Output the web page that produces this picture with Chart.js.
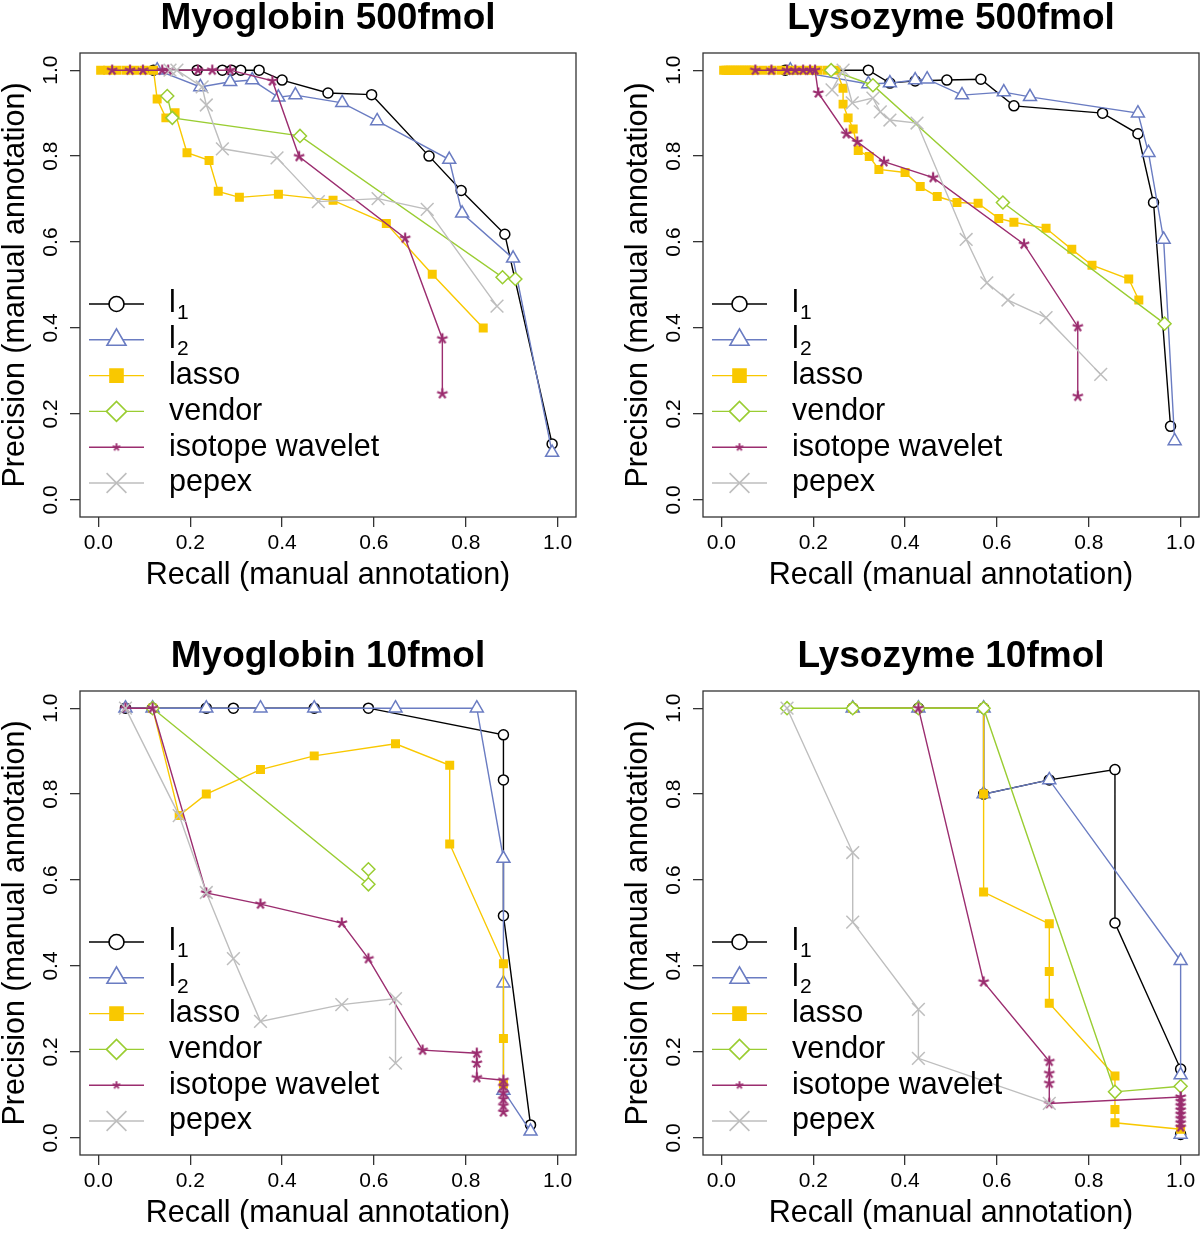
<!DOCTYPE html>
<html>
<head>
<meta charset="utf-8">
<script src="https://cdn.jsdelivr.net/npm/chart.js@4.4.0/dist/chart.umd.min.js"></script>
<style>
    body { margin: 0; background: #fff; width: 1200px; height: 1233px; position: relative; overflow: hidden; }
    canvas { position: absolute; }
</style>
</head>
<body>
<canvas id="panel0" width="577" height="595" style="left:0;top:0"></canvas>
<canvas id="panel1" width="577" height="595" style="left:623px;top:0"></canvas>
<canvas id="panel2" width="577" height="595" style="left:0;top:638px"></canvas>
<canvas id="panel3" width="577" height="595" style="left:623px;top:638px"></canvas>
<script>
const panelTitles = ["Myoglobin 500fmol", "Lysozyme 500fmol", "Myoglobin 10fmol", "Lysozyme 10fmol"];
const seriesNames = ["l1", "l2", "lasso", "vendor", "isotope wavelet", "pepex"];
const xTicks = [0, 0.2, 0.4, 0.6, 0.8, 1.0];
const yTicks = [0, 0.2, 0.4, 0.6, 0.8, 1.0];
const xTitle = "Recall (manual annotation)";
const yTitle = "Precision (manual annotation)";

// points are [recall, precision]
// Myoglobin 500fmol
const myo500L1 = [[0.12, 1], [0.215, 1], [0.27, 1], [0.29, 1], [0.31, 1], [0.35, 1], [0.40, 0.977], [0.50, 0.947], [0.595, 0.943], [0.72, 0.80], [0.79, 0.72], [0.885, 0.618], [0.988, 0.13]];
const myo500L2 = [[0.128, 1], [0.222, 0.961], [0.287, 0.973], [0.335, 0.977], [0.392, 0.937], [0.429, 0.942], [0.531, 0.924], [0.607, 0.882], [0.764, 0.792], [0.792, 0.667], [0.903, 0.562], [0.988, 0.11]];
const myo500Lasso = [[0.005, 1], [0.02, 1], [0.04, 1], [0.06, 1], [0.08, 1], [0.10, 1], [0.12, 1], [0.128, 0.933], [0.147, 0.889], [0.167, 0.901], [0.193, 0.808], [0.241, 0.79], [0.261, 0.718], [0.307, 0.704], [0.392, 0.711], [0.511, 0.697], [0.627, 0.643], [0.727, 0.525], [0.838, 0.40]];
const myo500Vendor = [[0.15, 0.94], [0.161, 0.889], [0.439, 0.847], [0.88, 0.518], [0.908, 0.514]];
const myo500Isotope = [[0.03, 1], [0.069, 1], [0.097, 1], [0.139, 1], [0.152, 1], [0.217, 1], [0.248, 1], [0.287, 1], [0.379, 0.975], [0.437, 0.799], [0.668, 0.609], [0.749, 0.375], [0.749, 0.247]];
const myo500Pepex = [[0.156, 1], [0.171, 1], [0.226, 0.961], [0.235, 0.919], [0.27, 0.817], [0.389, 0.796], [0.479, 0.694], [0.609, 0.701], [0.716, 0.676], [0.868, 0.451]];

// Lysozyme 500fmol
const lys500L1 = [[0.139, 1], [0.32, 1], [0.367, 0.97], [0.422, 0.975], [0.491, 0.977], [0.565, 0.979], [0.637, 0.917], [0.83, 0.90], [0.907, 0.852], [0.941, 0.692], [0.978, 0.171]];
const lys500L2 = [[0.15, 1], [0.32, 0.968], [0.367, 0.97], [0.422, 0.977], [0.448, 0.979], [0.524, 0.942], [0.615, 0.949], [0.672, 0.938], [0.907, 0.90], [0.93, 0.808], [0.963, 0.606], [0.987, 0.137]];
const lys500Lasso = [[0.005, 1], [0.01, 1], [0.015, 1], [0.02, 1], [0.025, 1], [0.03, 1], [0.035, 1], [0.04, 1], [0.045, 1], [0.05, 1], [0.055, 1], [0.06, 1], [0.065, 1], [0.07, 1], [0.09, 1], [0.11, 1], [0.13, 1], [0.15, 1], [0.17, 1], [0.19, 1], [0.21, 1], [0.23, 1], [0.25, 1], [0.265, 0.958], [0.265, 0.921], [0.276, 0.889], [0.287, 0.863], [0.298, 0.813], [0.322, 0.799], [0.343, 0.769], [0.40, 0.762], [0.433, 0.729], [0.47, 0.706], [0.513, 0.692], [0.559, 0.69], [0.604, 0.655], [0.637, 0.646], [0.707, 0.632], [0.763, 0.583], [0.807, 0.546], [0.887, 0.514], [0.909, 0.465]];
const lys500Vendor = [[0.239, 1], [0.33, 0.965], [0.613, 0.692], [0.965, 0.41]];
const lys500Isotope = [[0.074, 1], [0.109, 1], [0.143, 1], [0.161, 1], [0.178, 1], [0.193, 1], [0.204, 1], [0.211, 0.947], [0.272, 0.852], [0.296, 0.833], [0.354, 0.787], [0.461, 0.75], [0.659, 0.595], [0.776, 0.403], [0.776, 0.241]];
const lys500Pepex = [[0.241, 0.954], [0.265, 1], [0.285, 0.924], [0.33, 0.935], [0.346, 0.903], [0.367, 0.884], [0.426, 0.877], [0.533, 0.606], [0.578, 0.505], [0.624, 0.465], [0.707, 0.424], [0.826, 0.292]];

// Myoglobin 10fmol
const myo10L1 = [[0.059, 1], [0.118, 1], [0.235, 1], [0.294, 1], [0.47, 1], [0.588, 1], [0.882, 0.938], [0.882, 0.833], [0.882, 0.517], [0.941, 0.03]];
const myo10L2 = [[0.059, 1], [0.118, 1], [0.235, 1], [0.353, 1], [0.47, 1], [0.647, 1], [0.824, 1], [0.882, 0.65], [0.882, 0.36], [0.882, 0.11], [0.941, 0.015]];
const myo10Lasso = [[0.118, 1], [0.176, 0.75], [0.235, 0.80], [0.353, 0.857], [0.47, 0.889], [0.647, 0.917], [0.765, 0.867], [0.765, 0.684], [0.882, 0.405], [0.882, 0.231], [0.882, 0.125]];
const myo10Vendor = [[0.118, 1], [0.588, 0.59], [0.588, 0.625]];
const myo10Isotope = [[0.059, 1], [0.118, 1], [0.235, 0.57], [0.353, 0.544], [0.53, 0.5], [0.588, 0.417], [0.706, 0.204], [0.824, 0.197], [0.824, 0.174], [0.824, 0.14], [0.882, 0.134], [0.882, 0.12], [0.882, 0.105], [0.882, 0.09], [0.882, 0.075], [0.882, 0.06]];
const myo10Pepex = [[0.059, 1], [0.176, 0.75], [0.235, 0.571], [0.294, 0.417], [0.353, 0.271], [0.53, 0.31], [0.647, 0.324], [0.647, 0.174]];

// Lysozyme 10fmol
const lys10L1 = [[0.286, 1], [0.429, 1], [0.571, 1], [0.571, 0.8], [0.714, 0.833], [0.857, 0.857], [0.857, 0.5], [1, 0.16], [1, 0.008]];
const lys10L2 = [[0.286, 1], [0.429, 1], [0.571, 1], [0.571, 0.8], [0.714, 0.833], [1, 0.412], [1, 0.146], [1, 0.008]];
const lys10Lasso = [[0.286, 1], [0.571, 1], [0.571, 0.8], [0.571, 0.572], [0.714, 0.498], [0.714, 0.387], [0.714, 0.313], [0.857, 0.144], [0.857, 0.066], [0.857, 0.035], [1, 0.02]];
const lys10Vendor = [[0.143, 1], [0.286, 1], [0.429, 1], [0.571, 1], [0.857, 0.107], [1, 0.12]];
const lys10Isotope = [[0.429, 1], [0.571, 0.363], [0.714, 0.178], [0.714, 0.15], [0.714, 0.127], [0.714, 0.08], [1, 0.095], [1, 0.085], [1, 0.075], [1, 0.065], [1, 0.055], [1, 0.045], [1, 0.035], [1, 0.025]];
const lys10Pepex = [[0.143, 1], [0.286, 0.664], [0.286, 0.502], [0.429, 0.299], [0.429, 0.185], [0.714, 0.08]];

const panelSeries = [
    [myo500L1, myo500L2, myo500Lasso, myo500Vendor, myo500Isotope, myo500Pepex],
    [lys500L1, lys500L2, lys500Lasso, lys500Vendor, lys500Isotope, lys500Pepex],
    [myo10L1, myo10L2, myo10Lasso, myo10Vendor, myo10Isotope, myo10Pepex],
    [lys10L1, lys10L2, lys10Lasso, lys10Vendor, lys10Isotope, lys10Pepex],
];

const FONT = "'Liberation Sans', Arial, Helvetica, sans-serif";
Chart.defaults.font.family = FONT;
Chart.defaults.color = "#000";

// R style "*" symbol
function makeStar(size, arm, width, color) {
    const c = document.createElement("canvas");
    c.width = size;
    c.height = size;
    const g = c.getContext("2d");
    g.strokeStyle = color;
    g.lineWidth = width;
    const m = size / 2;
    for (let k = 0; k < 5; k++) {
        const a = -Math.PI / 2 + (k * 2 * Math.PI) / 5;
        g.beginPath();
        g.moveTo(m, m);
        g.lineTo(m + arm * Math.cos(a), m + arm * Math.sin(a));
        g.stroke();
    }
    return c;
}

const PURPLE = "#9b2d6f";
const STYLES = [
    { color: "#000000", style: "circle", radius: 5, fill: "#ffffff", legendRadius: 7.5 },
    { color: "#6a7cc2", style: "triangle", radius: 7.5, fill: "#ffffff", legendRadius: 11 },
    { color: "#f9c800", style: "rect", radius: 5.3, fill: "#f9c800", legendRadius: 9.2 },
    { color: "#9acd32", style: "rectRot", radius: 6.5, fill: "#ffffff", legendRadius: 10 },
    { color: PURPLE, style: makeStar(16, 5.5, 2.2, PURPLE), radius: 5, fill: PURPLE, legend: makeStar(12, 4, 1.8, PURPLE), legendRadius: 4 },
    { color: "#bebebe", style: "crossRot", radius: 9, fill: "#bebebe", legendRadius: 14 },
];

const boxPlugin = {
    id: "rBox",
    beforeDatasetsDraw(chart) {
        const { ctx, chartArea } = chart;
        ctx.save();
        ctx.strokeStyle = "#333";
        ctx.lineWidth = 1.3;
        ctx.strokeRect(chartArea.left, chartArea.top, chartArea.right - chartArea.left, chartArea.bottom - chartArea.top);
        ctx.restore();
    },
};

const legendPlugin = {
    id: "rLegend",
    afterDatasetsDraw(chart) {
        const { ctx, chartArea } = chart;
        const x0 = chartArea.left;
        seriesNames.forEach((name, i) => {
            const st = STYLES[i];
            const y = chartArea.top + 251 + i * 35.8;
            ctx.save();
            ctx.strokeStyle = st.color;
            ctx.lineWidth = 1.4;
            ctx.beginPath();
            ctx.moveTo(x0 + 9, y);
            ctx.lineTo(x0 + 64, y);
            ctx.stroke();
            ctx.fillStyle = st.fill;
            ctx.lineWidth = 1.6;
            Chart.helpers.drawPoint(ctx, {
                pointStyle: st.legend || st.style,
                radius: st.legendRadius,
                rotation: 0,
                borderWidth: 1.6,
            }, x0 + 36.5, y);

            ctx.fillStyle = "#000";
            ctx.textAlign = "left";
            ctx.textBaseline = "middle";
            ctx.font = "30.5px " + FONT;
            const sub = name.match(/^l(\d)$/);
            if (sub) {
                ctx.fillText("l", x0 + 89, y);
                ctx.font = "21px " + FONT;
                ctx.textBaseline = "alphabetic";
                ctx.fillText(sub[1], x0 + 97, y + 15);
            } else {
                ctx.fillText(name, x0 + 89, y);
            }
            ctx.restore();
        });
    },
};

function buildDatasets(series) {
    return series.map((pts, i) => {
        const st = STYLES[i];
        return {
            label: seriesNames[i],
            data: pts.map((p) => ({ x: p[0], y: p[1] })),
            showLine: true,
            borderColor: st.color,
            borderWidth: 1.4,
            pointStyle: st.style,
            pointRadius: st.radius,
            pointBorderWidth: 1.5,
            pointBorderColor: st.color,
            pointBackgroundColor: st.fill,
            tension: 0,
            clip: false,
            order: seriesNames.length - i,
        };
    });
}

function createPanel(idx) {
    const ctx = document.getElementById("panel" + idx);
    const tickGrid = {
        drawOnChartArea: false,
        drawTicks: true,
        tickLength: 10,
        color: "#333",
        lineWidth: 1.3,
    };
    return new Chart(ctx, {
        type: "scatter",
        data: { datasets: buildDatasets(panelSeries[idx]) },
        options: {
            responsive: false,
            animation: false,
            events: [],
            layout: { autoPadding: false, padding: { left: 0, right: 1, top: 0, bottom: 0 } },
            plugins: {
                legend: { display: false },
                tooltip: { enabled: false },
                title: {
                    display: true,
                    text: panelTitles[idx],
                    fullSize: false,
                    color: "#000",
                    font: { size: 37, weight: "bold", lineHeight: 1 },
                    padding: { top: 0, bottom: 16 },
                },
            },
            scales: {
                x: {
                    type: "linear",
                    min: -0.04,
                    max: 1.04,
                    afterBuildTicks: (axis) => {
                        axis.ticks = xTicks.map((v) => ({ value: v }));
                    },
                    afterFit: (scale) => {
                        scale.height = 78;
                        scale.paddingLeft = 0;
                        scale.paddingRight = 0;
                    },
                    ticks: {
                        font: { size: 21 },
                        color: "#000",
                        padding: 4,
                        maxRotation: 0,
                        callback: (v) => Number(v).toFixed(1),
                    },
                    grid: tickGrid,
                    border: { display: false },
                    title: {
                        display: true,
                        text: xTitle,
                        color: "#000",
                        font: { size: 30.5, lineHeight: 1 },
                        padding: { top: 0, bottom: 4 },
                    },
                },
                y: {
                    type: "linear",
                    min: -0.04,
                    max: 1.04,
                    afterBuildTicks: (axis) => {
                        axis.ticks = yTicks.map((v) => ({ value: v }));
                    },
                    afterFit: (scale) => {
                        scale.width = 80;
                        scale.paddingTop = 0;
                        scale.paddingBottom = 0;
                    },
                    ticks: {
                        font: { size: 21 },
                        color: "#000",
                        padding: 4.5,
                        minRotation: 90,
                        maxRotation: 90,
                        crossAlign: "center",
                        callback: (v) => Number(v).toFixed(1),
                    },
                    grid: tickGrid,
                    border: { display: false },
                    title: {
                        display: true,
                        text: yTitle,
                        color: "#000",
                        font: { size: 30.5, lineHeight: 1 },
                        padding: { top: 0, bottom: 0 },
                    },
                },
            },
        },
        plugins: [boxPlugin, legendPlugin],
    });
}

[0, 1, 2, 3].forEach(createPanel);
</script>
</body>
</html>
